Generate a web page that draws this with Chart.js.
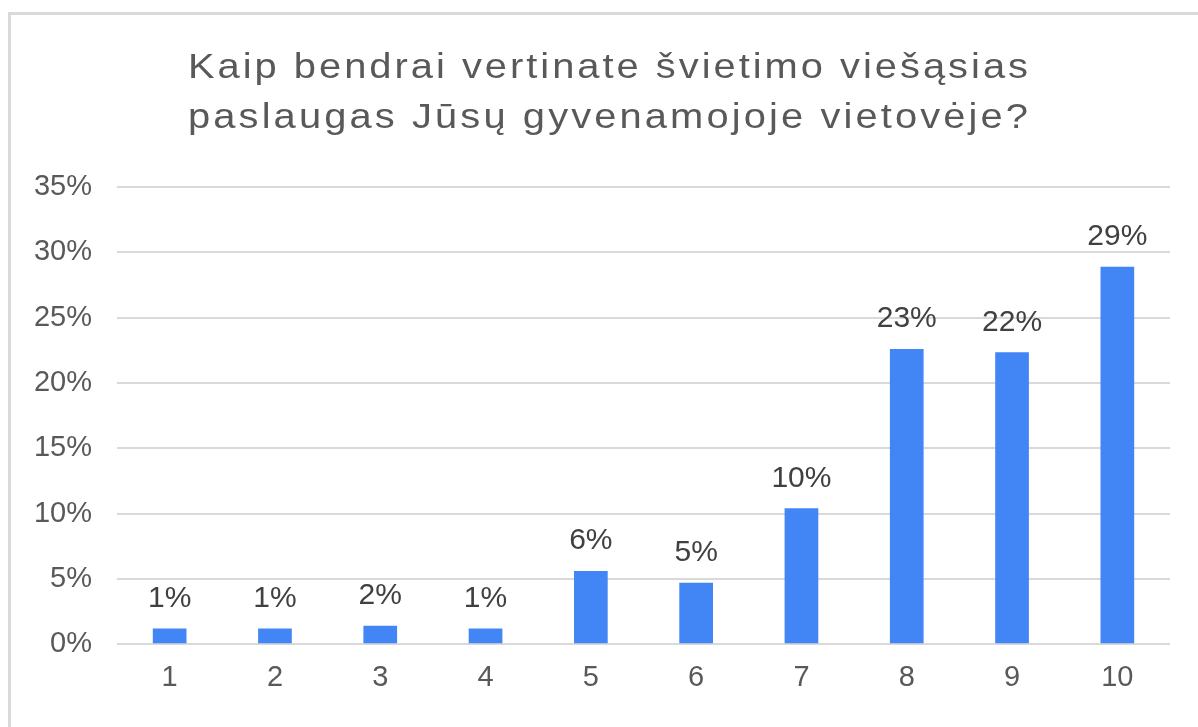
<!DOCTYPE html>
<html>
<head>
<meta charset="utf-8">
<script src="https://cdn.jsdelivr.net/npm/chart.js@4/dist/chart.umd.min.js"></script>
<style>
  html, body { margin: 0; padding: 0; background: #ffffff; overflow: hidden; }
  #frame { position: absolute; left: 8px; top: 12px; width: 1400px; height: 900px; border: 3px solid #d9d9d9; box-sizing: border-box; }
  #wrap { position: absolute; left: 0; top: 0; width: 1198px; height: 727px; }
</style>
</head>
<body>
<div id="frame"></div>
<div id="wrap"><canvas id="c" width="1198" height="727"></canvas></div>
<script>
const categories = ['1', '2', '3', '4', '5', '6', '7', '8', '9', '10'];
const values = [1.2, 1.2, 1.42, 1.2, 5.6, 4.7, 10.4, 22.6, 22.35, 28.9];
const valueLabels = ['1%', '1%', '2%', '1%', '6%', '5%', '10%', '23%', '22%', '29%'];
const titleLines = ['Kaip bendrai vertinate švietimo viešąsias', 'paslaugas Jūsų gyvenamojoje vietovėje?'];

const FONT = "'Liberation Sans', Arial, sans-serif";

const dataLabelPlugin = {
  id: 'dataLabels',
  afterDatasetsDraw(chart) {
    const ctx = chart.ctx;
    const meta = chart.getDatasetMeta(0);
    ctx.save();
    ctx.font = '30px ' + FONT;
    ctx.fillStyle = '#404040';
    ctx.textAlign = 'center';
    ctx.textBaseline = 'middle';
    meta.data.forEach((bar, i) => {
      ctx.fillText(valueLabels[i], bar.x, bar.y - 30);
    });
    ctx.restore();
  }
};

const spacedTitlePlugin = {
  id: 'spacedTitle',
  afterDraw(chart) {
    const ctx = chart.ctx;
    const stretch = 1.14;
    const targetWidth = 840;
    const centerX = 608;
    const firstBaseline = 78;
    const lineGap = 50;
    ctx.save();
    ctx.font = '35px ' + FONT;
    ctx.fillStyle = '#595959';
    ctx.textAlign = 'left';
    ctx.textBaseline = 'alphabetic';
    const hasLS = 'letterSpacing' in ctx;
    titleLines.forEach((line, i) => {
      ctx.letterSpacing = '0px';
      const natural = ctx.measureText(line).width;
      let spacing = 0;
      if (hasLS) {
        spacing = (targetWidth / stretch - natural) / (line.length - 1);
        ctx.letterSpacing = spacing + 'px';
      }
      const w = (natural + spacing * (line.length - 1)) * stretch;
      ctx.save();
      ctx.translate(centerX - w / 2, firstBaseline + i * lineGap);
      ctx.scale(stretch, 1);
      ctx.fillText(line, 0, 0);
      ctx.restore();
    });
    ctx.restore();
  }
};

new Chart(document.getElementById('c'), {
  type: 'bar',
  data: {
    labels: categories,
    datasets: [{
      data: values,
      backgroundColor: '#4285F4',
      borderWidth: 0,
      categoryPercentage: 1,
      barPercentage: 0.32
    }]
  },
  options: {
    responsive: false,
    animation: false,
    events: [],
    layout: { padding: { left: 16, right: 28, top: 187, bottom: 16 } },
    plugins: {
      legend: { display: false },
      tooltip: { enabled: false },
      title: { display: false }
    },
    scales: {
      x: {
        grid: { display: false, drawTicks: false },
        border: { display: false },
        ticks: { color: '#595959', font: { family: FONT, size: 29 }, padding: 16 }
      },
      y: {
        min: 0, max: 35,
        afterFit(scale) { scale.width = 101; },
        grid: { color: '#d9d9d9', lineWidth: 2, drawTicks: false },
        border: { display: false },
        ticks: {
          stepSize: 5,
          color: '#595959',
          font: { family: FONT, size: 29 },
          padding: 25,
          callback: v => v + '%'
        }
      }
    }
  },
  plugins: [dataLabelPlugin, spacedTitlePlugin]
});
</script>
</body>
</html>
